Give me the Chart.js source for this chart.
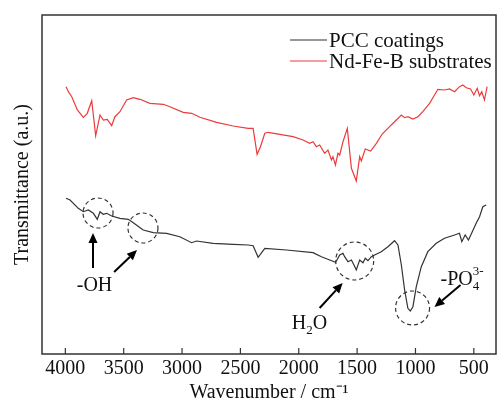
<!DOCTYPE html>
<html>
<head>
<meta charset="utf-8">
<script src="https://cdn.jsdelivr.net/npm/chart.js@4.4.1/dist/chart.umd.min.js"></script>
<style>
  html, body { margin: 0; padding: 0; background: #fff; }
  #wrap { position: relative; width: 498px; height: 407px; }
</style>
</head>
<body>
<div id="wrap"><canvas id="myChart" width="498" height="407"></canvas></div>
<script>
// wavenumber (cm-1) and transmittance (a.u.)
var wnPCC = [3994, 3960, 3889, 3846, 3803, 3760, 3726, 3703, 3675, 3646, 3603, 3532, 3461, 3418, 3333, 3247,
  3132, 3019, 2918, 2876, 2734, 2562, 2434, 2391, 2348, 2291, 2105, 1878, 1806, 1735, 1684, 1649, 1621, 1607,
  1578, 1549, 1527, 1507, 1478, 1450, 1430, 1407, 1378, 1350, 1293, 1236, 1179, 1150, 1121, 1093, 1065, 1044,
  1022, 993, 950, 894, 822, 751, 665, 623, 603, 574, 546, 517, 480, 451, 423, 394];
var tPCC = [155.7, 154, 145.7, 142.3, 144, 140.7, 134.7, 142.3, 139.7, 140.7, 138, 135.7, 134.7, 131.3, 124, 121.3,
  120.7, 117.3, 111.3, 113, 110.7, 109.7, 109, 108.3, 96.7, 105.7, 104, 101.3, 97.3, 94, 91.7, 99, 100.7, 97.3,
  92.3, 94, 89, 84, 94, 91.3, 95.7, 93.3, 97.3, 99, 102.3, 107.3, 113.3, 109, 89, 64, 45.7, 43,
  47.3, 67.3, 87.3, 102.3, 110.7, 115.7, 119, 120.7, 112.3, 119, 114, 121.3, 130.7, 137.3, 147.3, 149];

var wnNd = [3994, 3974, 3945, 3897, 3846, 3812, 3774, 3740, 3703, 3675, 3641, 3603, 3575, 3532, 3475, 3418,
  3361, 3275, 3161, 3104, 2990, 2918, 2847, 2704, 2562, 2434, 2391, 2357, 2328, 2291, 2263, 2049, 1963, 1906,
  1878, 1849, 1821, 1778, 1750, 1720, 1707, 1686, 1664, 1649, 1621, 1584, 1549, 1507, 1478, 1464, 1430, 1384,
  1335, 1287, 1222, 1179, 1121, 1093, 1065, 1022, 979, 937, 879, 808, 751, 708, 665, 623, 594, 565, 528, 500,
  471, 451, 432, 409, 386];
var tNd = [267.3, 262.3, 257.3, 244, 236.7, 240.7, 253.3, 218.3, 239, 234, 234.7, 228.3, 237.3, 242.3, 254, 256.3,
  254.7, 250.7, 249.7, 247.3, 241.7, 240.7, 236.7, 231.7, 228, 225.7, 225.7, 199.7, 207.3, 220.7, 221.7, 217.3, 214, 210.7,
  212.3, 207.3, 209, 200.7, 204, 194, 197.3, 189, 200.7, 199, 212.3, 225.7, 185.7, 173, 197.3, 193, 205, 203,
  210.7, 219.7, 227.3, 232.3, 239, 236.3, 237.3, 235, 237.3, 242.3, 250.7, 264.7, 264, 265, 262.3, 267.3, 269, 266.3, 265, 259,
  265.7, 258.3, 262.3, 254, 267.3];

var seriesNames = ['PCC coatings', 'Nd-Fe-B substrates'];
var xTicks = [4000, 3500, 3000, 2500, 2000, 1500, 1000, 500];

var FONT = '"Liberation Serif", "Times New Roman", serif';
var INK = '#333333';
var RED = '#ec3b3b';

function toPoints(xs, ys) {
  var out = [];
  for (var i = 0; i < xs.length; i++) out.push({ x: xs[i], y: ys[i] });
  return out;
}

// dashed circles, arrows and labels, placed in data coordinates
var circles = [
  { x: 3720, y: 141, r: 15 },
  { x: 3335, y: 126, r: 15 },
  { x: 1521, y: 93, r: 19 },
  { x: 1025, y: 46, r: 17 }
];
var arrows = [
  { x1: 3763, y1: 86, x2: 3763, y2: 121 },
  { x1: 3582, y1: 82, x2: 3386, y2: 104 },
  { x1: 1821, y1: 46, x2: 1624, y2: 71 },
  { x1: 614, y1: 69, x2: 837, y2: 47 }
];

function drawArrow(ctx, x1, y1, x2, y2) {
  var a = Math.atan2(y2 - y1, x2 - x1);
  var head = 10, half = 4.5;
  var bx = x2 - head * Math.cos(a), by = y2 - head * Math.sin(a);
  ctx.beginPath();
  ctx.moveTo(x1, y1);
  ctx.lineTo(bx, by);
  ctx.stroke();
  ctx.beginPath();
  ctx.moveTo(x2, y2);
  ctx.lineTo(bx + half * Math.sin(a), by - half * Math.cos(a));
  ctx.lineTo(bx - half * Math.sin(a), by + half * Math.cos(a));
  ctx.closePath();
  ctx.fill();
}

var decorations = {
  id: 'decorations',
  afterDraw: function (chart) {
    var ctx = chart.ctx;
    var xs = chart.scales.x, ys = chart.scales.y;
    var area = chart.chartArea;
    ctx.save();

    // frame
    ctx.strokeStyle = INK;
    ctx.lineWidth = 1.5;
    ctx.strokeRect(area.left, area.top, area.right - area.left, area.bottom - area.top);

    // inward ticks on the bottom axis
    ctx.lineWidth = 1.2;
    xs.ticks.forEach(function (t) {
      var px = xs.getPixelForValue(t.value);
      ctx.beginPath();
      ctx.moveTo(px, area.bottom);
      ctx.lineTo(px, area.bottom - 6);
      ctx.stroke();
    });

    // dashed circles
    ctx.setLineDash([4, 3]);
    ctx.lineWidth = 1.2;
    circles.forEach(function (c) {
      ctx.beginPath();
      ctx.arc(xs.getPixelForValue(c.x), ys.getPixelForValue(c.y), c.r, 0, Math.PI * 2);
      ctx.stroke();
    });
    ctx.setLineDash([]);

    // arrows
    ctx.fillStyle = '#000';
    ctx.strokeStyle = '#000';
    ctx.lineWidth = 2;
    arrows.forEach(function (a) {
      drawArrow(ctx, xs.getPixelForValue(a.x1), ys.getPixelForValue(a.y1),
        xs.getPixelForValue(a.x2), ys.getPixelForValue(a.y2));
    });

    // labels
    ctx.fillStyle = '#111';
    ctx.textBaseline = 'alphabetic';
    ctx.font = '20px ' + FONT;
    ctx.textAlign = 'center';
    ctx.fillText('-OH', xs.getPixelForValue(3750), ys.getPixelForValue(63));

    ctx.textAlign = 'left';
    var hx = xs.getPixelForValue(2060), hy = ys.getPixelForValue(25);
    ctx.fillText('H', hx, hy);
    var w = ctx.measureText('H').width;
    ctx.font = '13px ' + FONT;
    ctx.fillText('2', hx + w, hy + 5);
    var w2 = ctx.measureText('2').width;
    ctx.font = '20px ' + FONT;
    ctx.fillText('O', hx + w + w2, hy);

    var px0 = xs.getPixelForValue(785), py0 = ys.getPixelForValue(69);
    ctx.fillText('-PO', px0, py0);
    var pw = ctx.measureText('-PO').width;
    ctx.font = '13px ' + FONT;
    ctx.fillText('4', px0 + pw, py0 + 5);
    ctx.fillText('3-', px0 + pw, py0 - 10);

    // legend
    ctx.font = '21px ' + FONT;
    var colors = [INK, RED];
    var ly = [40, 61];
    for (var i = 0; i < seriesNames.length; i++) {
      ctx.strokeStyle = colors[i];
      ctx.lineWidth = 1.2;
      ctx.beginPath();
      ctx.moveTo(290, ly[i]);
      ctx.lineTo(327, ly[i]);
      ctx.stroke();
      ctx.fillStyle = '#111';
      ctx.textBaseline = 'middle';
      ctx.fillText(seriesNames[i], 329, ly[i] + 1);
    }
    ctx.restore();
  }
};

var ctx = document.getElementById('myChart');
var myChart = new Chart(ctx, {
  type: 'line',
  data: {
    datasets: [
      { label: seriesNames[0], data: toPoints(wnPCC, tPCC), borderColor: INK, borderWidth: 1.2, pointRadius: 0, tension: 0 },
      { label: seriesNames[1], data: toPoints(wnNd, tNd), borderColor: RED, borderWidth: 1.2, pointRadius: 0, tension: 0 }
    ]
  },
  options: {
    responsive: false,
    animation: false,
    layout: { padding: { top: 15, right: 2, left: 0, bottom: 0 } },
    plugins: { legend: { display: false }, tooltip: { enabled: false } },
    scales: {
      x: {
        type: 'linear',
        reverse: true,
        min: 310,
        max: 4200,
        afterBuildTicks: function (scale) {
          scale.ticks = xTicks.map(function (v) { return { value: v }; });
        },
        afterFit: function (scale) { scale.height = 53; },
        grid: { display: false, drawTicks: false },
        border: { display: false },
        ticks: {
          color: '#111', font: { family: FONT, size: 20 }, padding: 3, maxRotation: 0, autoSkip: false,
          callback: function (v) { return String(v); }
        },
        title: { display: true, text: 'Wavenumber / cm\u207B\u00B9', color: '#111', font: { family: FONT, size: 20 }, padding: { top: 0, bottom: 2 } }
      },
      y: {
        min: 0,
        max: 339,
        afterFit: function (scale) { scale.width = 42; },
        grid: { display: false },
        border: { display: false },
        ticks: { display: false },
        title: { display: true, text: 'Transmittance (a.u.)', color: '#111', font: { family: FONT, size: 20 }, padding: { top: 11, bottom: 0 } }
      }
    }
  },
  plugins: [decorations]
});
</script>
</body>
</html>
